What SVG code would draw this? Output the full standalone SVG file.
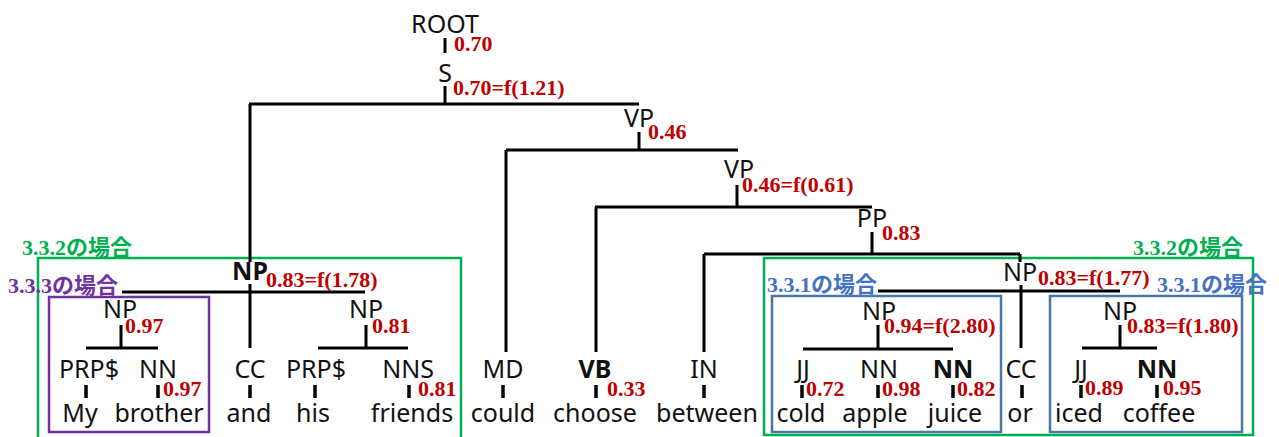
<svg xmlns="http://www.w3.org/2000/svg" width="1279" height="437" viewBox="0 0 1279 437">
<style>
.t{font-family:"Noto Sans","Liberation Sans",sans-serif;font-size:25px;fill:#111;text-anchor:middle}
.b{font-weight:bold}
.r{font-family:"Liberation Serif","Noto Sans CJK JP",serif;font-size:22px;font-weight:bold;fill:#c00000}
.lab{font-family:"Liberation Serif","Noto Sans CJK JP",serif;font-size:22px;font-weight:bold}
.ln{stroke:#000;stroke-width:3;fill:none}
.tk{stroke:#000;stroke-width:3.5;fill:none}
.box{fill:none;stroke-width:2.5}
</style>
<rect width="1279" height="437" fill="#fff"/>
<g id="boxes">
<rect class="box" x="38" y="258" width="423" height="190" stroke="#00b050"/>
<rect class="box" x="49" y="297" width="160" height="135" stroke="#7030a0"/>
<rect class="box" x="764" y="258" width="489" height="177" stroke="#00b050"/>
<rect class="box" x="772" y="296" width="229" height="136" stroke="#4a76a8"/>
<rect class="box" x="1050" y="296" width="192" height="136" stroke="#4a76a8"/>
</g>
<g id="connectors">
<path class="ln" d="M445 38V53 M445 86V104 M249 104H639 M250 104V262 M250 284V348 M639 132V150 M506 150H738 M506 150V352 M737 185V207 M595 207H872 M596 207V352 M872 232V254 M704 254H1020 M704 254V352 M1020 254V262 M1021 285V348 M878 291H1120 M878 325V349 M803 349H953 M1120 325V348 M1082 348H1157 M122 292H365 M121 325V348 M86 348H158 M366 325V348 M318 348H408"/>
<path class="tk" d="M86 385V398 M158 385V398 M250 385V398 M315 385V398 M409 385V398 M503 385V398 M596 385V398 M704 385V398 M802 385V398 M878 385V398 M953 385V398 M1022 385V398 M1081 385V398 M1157 385V398"/>
</g>
<g id="n-root"><text class="t" x="445" y="33">ROOT</text><text class="r" x="454" y="51">0.70</text></g>
<g id="n-s"><text class="t" x="445" y="82">S</text><text class="r" x="453" y="95">0.70=f(1.21)</text></g>
<g id="n-vp1"><text class="t" x="639" y="127">VP</text><text class="r" x="648" y="139">0.46</text></g>
<g id="n-vp2"><text class="t" x="739" y="178">VP</text><text class="r" x="742" y="192">0.46=f(0.61)</text></g>
<g id="n-pp"><text class="t" x="872" y="227">PP</text><text class="r" x="882" y="240">0.83</text></g>
<g id="n-np-subj"><text class="t b" x="250" y="280">NP</text><text class="r" x="266" y="287">0.83=f(1.78)</text></g>
<g id="n-np-obj"><text class="t" x="1020" y="281">NP</text><text class="r" x="1038" y="285">0.83=f(1.77)</text></g>
<g id="n-np-my"><text class="t" x="120" y="318">NP</text><text class="r" x="125" y="333">0.97</text></g>
<g id="n-np-his"><text class="t" x="366" y="318">NP</text><text class="r" x="372" y="333">0.81</text></g>
<g id="n-np-juice"><text class="t" x="879" y="320">NP</text><text class="r" x="884" y="333">0.94=f(2.80)</text></g>
<g id="n-np-coffee"><text class="t" x="1120" y="320">NP</text><text class="r" x="1127" y="333">0.83=f(1.80)</text></g>
<g id="n-my"><text class="t" x="89" y="378">PRP$</text><text class="t" x="80" y="422">My</text></g>
<g id="n-brother"><text class="t" x="158" y="378">NN</text><text class="r" x="163" y="396">0.97</text><text class="t" x="159" y="422">brother</text></g>
<g id="n-and"><text class="t" x="250" y="378">CC</text><text class="t" x="249" y="422">and</text></g>
<g id="n-his"><text class="t" x="316" y="378">PRP$</text><text class="t" x="313" y="422">his</text></g>
<g id="n-friends"><text class="t" x="408" y="378">NNS</text><text class="r" x="418" y="396">0.81</text><text class="t" x="412" y="422">friends</text></g>
<g id="n-could"><text class="t" x="503" y="378">MD</text><text class="t" x="503" y="422">could</text></g>
<g id="n-choose"><text class="t b" x="595" y="378">VB</text><text class="r" x="607" y="396">0.33</text><text class="t" x="595" y="422">choose</text></g>
<g id="n-between"><text class="t" x="704" y="378">IN</text><text class="t" x="707" y="422">between</text></g>
<g id="n-cold"><text class="t" x="803" y="378">JJ</text><text class="r" x="806" y="396">0.72</text><text class="t" x="801" y="422">cold</text></g>
<g id="n-apple"><text class="t" x="879" y="378">NN</text><text class="r" x="882" y="396">0.98</text><text class="t" x="875" y="422">apple</text></g>
<g id="n-juice"><text class="t b" x="953" y="378">NN</text><text class="r" x="957" y="396">0.82</text><text class="t" x="955" y="422">juice</text></g>
<g id="n-or"><text class="t" x="1021" y="378">CC</text><text class="t" x="1020" y="422">or</text></g>
<g id="n-iced"><text class="t" x="1081" y="378">JJ</text><text class="r" x="1085" y="395">0.89</text><text class="t" x="1079" y="422">iced</text></g>
<g id="n-coffee"><text class="t b" x="1157" y="378">NN</text><text class="r" x="1163" y="395">0.95</text><text class="t" x="1159" y="422">coffee</text></g>
<g id="labels">
<text class="lab" x="22" y="255" fill="#00b050">3.3.2の場合</text>
<text class="lab" x="1133" y="255" fill="#00b050">3.3.2の場合</text>
<text class="lab" x="8" y="293" fill="#7030a0">3.3.3の場合</text>
<text class="lab" x="767" y="292" fill="#4472c4">3.3.1の場合</text>
<text class="lab" x="1157" y="292" fill="#4472c4">3.3.1の場合</text>
</g>
</svg>
